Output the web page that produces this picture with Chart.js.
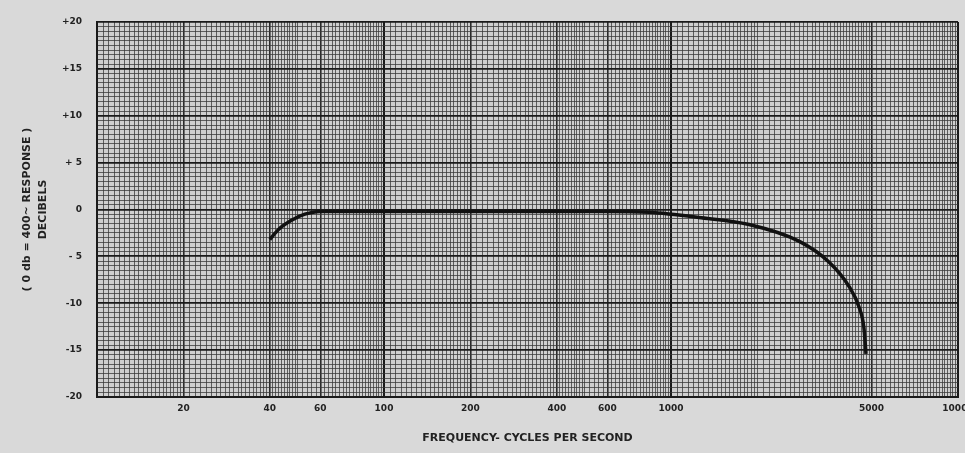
<!DOCTYPE html>
<html>
<head>
<meta charset="utf-8">
<script src="https://cdn.jsdelivr.net/npm/chart.js@4"></script>
<style>
  html, body { margin: 0; padding: 0; background: #d9d9d9; }
  #wrap { width: 965px; height: 453px; }
</style>
</head>
<body>
<div id="wrap"><canvas id="myChart" width="965" height="453"></canvas></div>
<script>
// response curve
const frequencies = [40, 43, 48, 53, 60, 80, 150, 300, 600, 840, 1250, 1870, 2800, 3550, 4170, 4520, 4700, 4780];
const responseDb = [-3.2, -2.1, -1.1, -0.5, -0.2, -0.2, -0.2, -0.2, -0.2, -0.3, -0.85, -1.6, -3.4, -5.6, -8.2, -10.4, -12.6, -15.4];

const xTickLabels = [20, 40, 60, 100, 200, 400, 600, 1000, 5000, 10000];
const yTickValues = [20, 15, 10, 5, 0, -5, -10, -15, -20];
const yTickText = ['+20', '+15', '+10', '+ 5', '0', '- 5', '-10', '-15', '-20'];

// log paper rulings
function paperLines() {
  const out = [];
  for (let k = 10; k < 10000; k *= 10) {
    for (let i = 0; i < 20; i++) out.push(+((1 + i * 0.05) * k).toFixed(3));
    for (let i = 0; i < 30; i++) out.push(+((2 + i * 0.1) * k).toFixed(3));
    for (let i = 0; i < 25; i++) out.push(+((5 + i * 0.2) * k).toFixed(3));
  }
  out.push(10000);
  return out;
}
const gridFreqs = paperLines();

function near(v, list) {
  return list.find(l => Math.abs(l - v) < l * 0.001);
}

const paperBg = {
  id: 'paperBg',
  beforeDraw(chart) {
    const {ctx, chartArea: a} = chart;
    ctx.save();
    ctx.fillStyle = '#d9d9d9';
    ctx.fillRect(0, 0, chart.width, chart.height);
    ctx.fillStyle = '#cfcfcf';
    ctx.fillRect(a.left, a.top, a.right - a.left, a.bottom - a.top);
    ctx.restore();
  }
};

const ctx = document.getElementById('myChart');
const myChart = new Chart(ctx, {
  type: 'line',
  data: {
    datasets: [{
      data: frequencies.map((f, i) => ({x: f, y: responseDb[i]})),
      borderColor: '#111',
      borderWidth: 3.5,
      pointRadius: 0,
      fill: false,
      cubicInterpolationMode: 'monotone'
    }]
  },
  plugins: [paperBg],
  options: {
    responsive: false,
    animation: false,
    layout: { padding: { left: 0, right: 7, top: 22, bottom: 0 } },
    plugins: { legend: { display: false }, tooltip: { enabled: false } },
    scales: {
      x: {
        type: 'logarithmic',
        min: 10,
        max: 10000,
        afterBuildTicks: (scale) => { scale.ticks = gridFreqs.map(v => ({value: v})); },
        afterFit: (scale) => {
          scale.height = 56;
          scale.paddingLeft = 0;
          scale.paddingRight = 0;
        },
        grid: {
          drawTicks: false,
          color: (c) => {
            const v = c.tick && c.tick.value;
            if (near(v, [10, 100, 1000, 10000])) return '#1a1a1a';
            if (near(v, xTickLabels)) return '#2a2a2a';
            return 'rgba(55,55,55,0.75)';
          },
          lineWidth: (c) => {
            const v = c.tick && c.tick.value;
            if (near(v, [10, 100, 1000, 10000])) return 2;
            if (near(v, xTickLabels)) return 1.6;
            return 1;
          }
        },
        border: { display: true, color: '#1a1a1a', width: 2 },
        ticks: {
          autoSkip: false,
          maxRotation: 0,
          padding: 6,
          color: '#222',
          font: { family: 'DejaVu Sans', size: 9, weight: 'bold' },
          callback: (v) => { const m = near(v, xTickLabels); return m ? String(m) : ''; }
        },
        title: {
          display: true,
          text: 'FREQUENCY- CYCLES PER SECOND',
          color: '#222',
          font: { family: 'DejaVu Sans', size: 11, weight: 'bold' },
          padding: { top: 0, bottom: 8 }
        }
      },
      y: {
        min: -20,
        max: 20,
        afterFit: (scale) => { scale.width = 97; },
        grid: {
          drawTicks: false,
          color: (c) => (c.tick && c.tick.value % 5 === 0) ? '#1a1a1a' : 'rgba(55,55,55,0.75)',
          lineWidth: (c) => (c.tick && c.tick.value % 5 === 0) ? 1.8 : 1
        },
        border: { display: true, color: '#1a1a1a', width: 2 },
        ticks: {
          stepSize: 0.5,
          autoSkip: false,
          padding: 15,
          color: '#222',
          font: { family: 'DejaVu Sans', size: 9, weight: 'bold' },
          callback: (v) => { const i = yTickValues.indexOf(v); return i >= 0 ? yTickText[i] : ''; }
        },
        title: {
          display: true,
          text: ['( 0 db = 400~ RESPONSE )', 'DECIBELS'],
          color: '#222',
          font: { family: 'DejaVu Sans', size: 11, weight: 'bold', lineHeight: 1.45 },
          padding: { top: 19, bottom: 0 }
        }
      }
    }
  }
});
</script>
</body>
</html>
